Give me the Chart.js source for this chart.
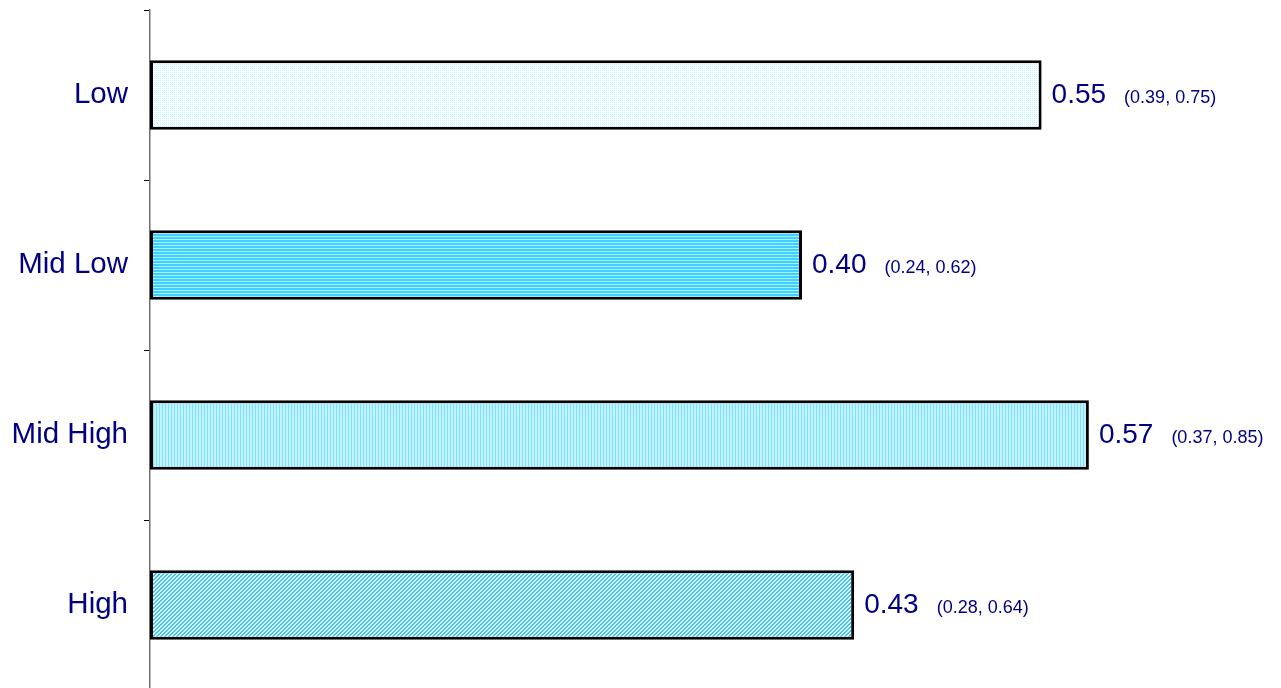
<!DOCTYPE html>
<html>
<head>
<meta charset="utf-8">
<script src="https://cdn.jsdelivr.net/npm/chart.js@4"></script>
<style>
html,body{margin:0;padding:0;background:#fff;overflow:hidden;}
#wrap{width:1281px;height:690px;position:relative;}
</style>
</head>
<body>
<div id="wrap"><canvas id="c"></canvas></div>
<script>
const categories = ["Low", "Mid Low", "Mid High", "High"];
const values = [0.547, 0.4, 0.576, 0.432];
const valueLabels = ["0.55", "0.40", "0.57", "0.43"];
const ciLabels = ["(0.39, 0.75)", "(0.24, 0.62)", "(0.37, 0.85)", "(0.28, 0.64)"];

function makePattern(w, h, fn) {
  const c = document.createElement('canvas');
  c.width = w; c.height = h;
  const g = c.getContext('2d');
  for (let y = 0; y < h; y++) for (let x = 0; x < w; x++) {
    g.fillStyle = fn(x, y);
    g.fillRect(x, y, 1, 1);
  }
  return g.createPattern(c, 'repeat');
}
const patLow = makePattern(4, 4, (x, y) => ((x + y) % 2 === 0 && (x % 2 === 0)) ? '#bff2ff' : ((x + y) % 2 === 0 ? '#eafcff' : '#ffffff'));
const patMidLow = makePattern(1, 3, (x, y) => y === 2 ? '#a6f0ff' : '#3fd0ff');
const patMidHigh = makePattern(3, 1, (x, y) => x === 0 ? '#86deff' : '#bff4ff');
const patHigh = makePattern(4, 4, (x, y) => ((x + y) % 4 < 2) ? '#3cc8ff' : '#e6faff');
const fills = [patLow, patMidLow, patMidHigh, patHigh];

const labelPlugin = {
  id: 'valueLabels',
  afterDatasetsDraw(chart) {
    const ctx = chart.ctx;
    const meta = chart.getDatasetMeta(0);
    ctx.save();
    ctx.fillStyle = '#000080';
    ctx.textBaseline = 'alphabetic';
    ctx.textAlign = 'left';
    meta.data.forEach((bar, i) => {
      const x = bar.x + 10;
      const y = bar.y + 8;
      ctx.font = '28px "Liberation Sans", Arial, sans-serif';
      ctx.fillText(valueLabels[i], x, y);
      const w = ctx.measureText(valueLabels[i]).width;
      ctx.font = '18px "Liberation Sans", Arial, sans-serif';
      ctx.fillText(ciLabels[i], x + w + 18, y);
    });
    ctx.restore();
  }
};

new Chart(document.getElementById('c'), {
  type: 'bar',
  data: {
    labels: categories,
    datasets: [{
      data: values,
      backgroundColor: fills,
      borderColor: '#000000',
      borderWidth: 3,
      borderSkipped: false,
      barPercentage: 0.41,
      categoryPercentage: 1.0
    }]
  },
  options: {
    indexAxis: 'y',
    responsive: true,
    maintainAspectRatio: false,
    animation: false,
    layout: { padding: { top: 10, right: 22.6, bottom: 0, left: 0 } },
    plugins: { legend: { display: false }, tooltip: { enabled: false } },
    scales: {
      x: { display: false, min: 0, max: 0.68 },
      y: {
        offset: true,
        afterFit(scale) { scale.width = 150; scale.paddingTop = 0; scale.paddingBottom = 0; },
        grid: { offset: true, drawOnChartArea: false, tickLength: 6, color: '#000000', lineWidth: 1 },
        border: { display: true, color: '#707070', width: 1.5 },
        ticks: {
          color: '#000080',
          padding: 16,
          font: { family: '"Liberation Sans", Arial, sans-serif', size: 29.5 }
        }
      }
    }
  },
  plugins: [labelPlugin]
});
</script>
</body>
</html>
